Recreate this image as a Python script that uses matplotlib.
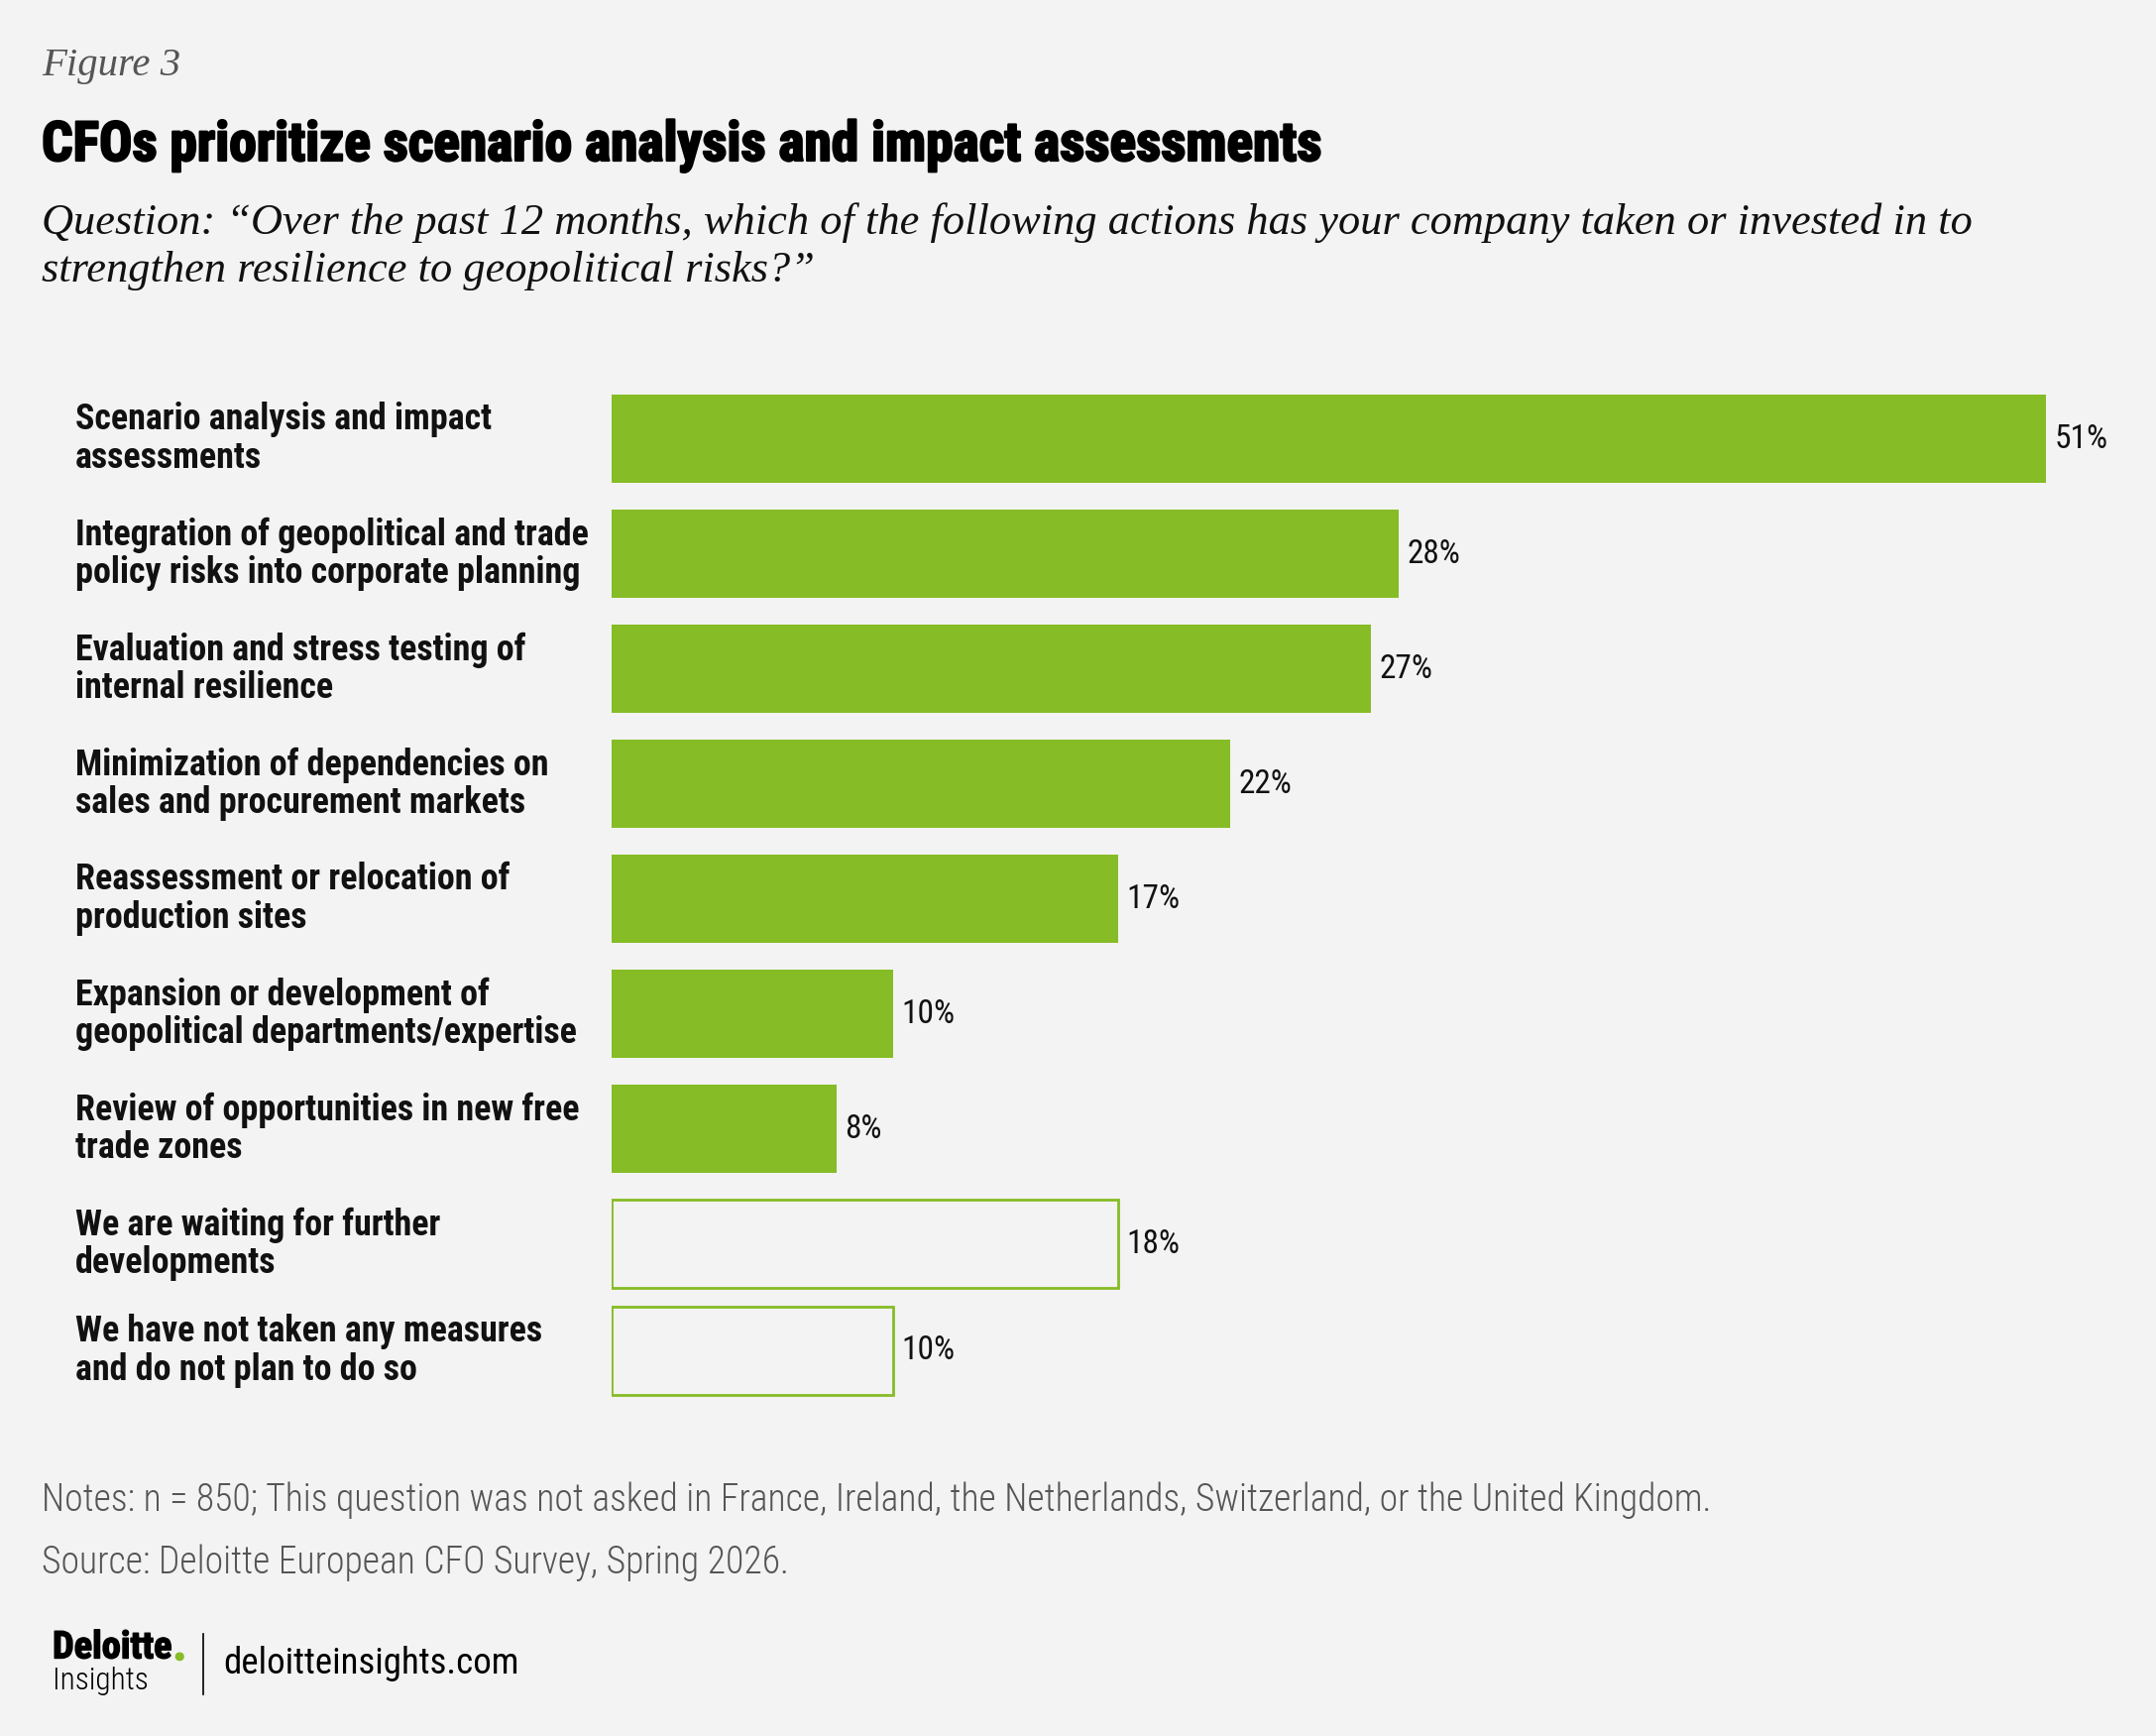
import matplotlib
matplotlib.use('Agg')
import numpy as np
import matplotlib.pyplot as plt
import matplotlib.patheffects as pe
from matplotlib import font_manager

W, H = 2175, 1751
DPI = 100

categories = [
    'Scenario analysis and impact\nassessments',
    'Integration of geopolitical and trade\npolicy risks into corporate planning',
    'Evaluation and stress testing of\ninternal resilience',
    'Minimization of dependencies on\nsales and procurement markets',
    'Reassessment or relocation of\nproduction sites',
    'Expansion or development of\ngeopolitical departments/expertise',
    'Review of opportunities in new free\ntrade zones',
    'We are waiting for further\ndevelopments',
    'We have not taken any measures\nand do not plan to do so',
]
# bar lengths as drawn in the source chart (the 17% bar is drawn as long as the 18% one)
values = [51, 28, 27, 22, 18, 10, 8, 18, 10]
value_labels = ['51%', '28%', '27%', '22%', '17%', '10%', '8%', '18%', '10%']
filled = [True, True, True, True, True, True, True, False, False]

title = 'CFOs prioritize scenario analysis and impact assessments'
question = ['Question: \u201cOver the past 12 months, which of the following actions has your company taken or invested in to',
            'strengthen resilience to geopolitical risks?\u201d']
notes = 'Notes: n = 850; This question was not asked in France, Ireland, the Netherlands, Switzerland, or the United Kingdom.'
source = 'Source: Deloitte European CFO Survey, Spring 2026.'

GREEN = '#86BC25'
BG = '#F3F3F3'

installed = {f.name for f in font_manager.fontManager.ttflist}


def pick(*names):
    for n in names:
        if n in installed:
            return n
    return 'DejaVu Sans'


NARROW = pick('Roboto Condensed', 'Liberation Sans Narrow', 'DejaVu Sans Condensed', 'Roboto')
SERIF = pick('Liberation Serif', 'DejaVu Serif')

fig = plt.figure(figsize=(W / DPI, H / DPI), dpi=DPI, facecolor=BG)


def fx(x):
    return x / W


def fy(y):
    return 1 - y / H


def fit(t, width):
    # scale font size so the text is the given pixel width
    r = fig.canvas.get_renderer()
    w = t.get_window_extent(r).width
    t.set_fontsize(t.get_fontsize() * width / w)


# bars
ax = fig.add_axes([fx(617), fy(1428.5), fx(2064) - fx(617), (1428.5 - 384.5) / H])
ax.set_facecolor(BG)
y = np.arange(len(values), dtype=float)
y[-1] -= 0.07
for yi, v, lab, f in zip(y, values, value_labels, filled):
    if f:
        ax.barh(yi, v, height=0.77, color=GREEN, edgecolor='none')
    else:
        ax.barh(yi, v, height=0.77, facecolor='none', edgecolor=GREEN, linewidth=2)
    ax.annotate(lab, (v, yi), xytext=(6, 0), textcoords='offset points',
                va='center', ha='left', fontsize=24, family=NARROW, color='#111111')
ax.set_xlim(0, 51)
ax.set_ylim(len(values) - 0.5, -0.5)
ax.axis('off')

lab_tr = matplotlib.transforms.blended_transform_factory(fig.transFigure, ax.transData)
labs = []
for yi, c in zip(y, categories):
    t = fig.text(fx(76), yi, c, transform=lab_tr, va='center', ha='left',
                 fontsize=22, fontweight='bold', family=NARROW, color='#111111',
                 linespacing=1.08)
    labs.append(t)
fig.canvas.draw()
r = fig.canvas.get_renderer()
scale = (428 - 55) * 1.387 / labs[1].get_window_extent(r).width
for t in labs:
    t.set_fontsize(t.get_fontsize() * scale)

# header
t = fig.text(fx(42), fy(76), 'Figure 3', family=SERIF, style='italic', fontsize=28,
             color='#555555', va='baseline')
fit(t, 140)
t = fig.text(fx(42), fy(162), title, family=NARROW, fontweight='heavy', fontsize=34,
             color='#000000', va='baseline',
             path_effects=[pe.withStroke(linewidth=1.6, foreground='#000000')])
fit(t, 1290)
q1 = fig.text(fx(42), fy(236), question[0], family=SERIF, style='italic', fontsize=28,
              color='#111111', va='baseline')
fit(q1, 1945)
fig.text(fx(42), fy(284), question[1], family=SERIF, style='italic',
         fontsize=q1.get_fontsize(), color='#111111', va='baseline')

# footer
n = fig.text(fx(42), fy(1513), notes, family=NARROW, fontweight='light', fontsize=22,
             color='#555555', va='center')
fit(n, 1678)
fig.text(fx(42), fy(1576), source, family=NARROW, fontweight='light', fontsize=n.get_fontsize(),
         color='#555555', va='center')

d = fig.text(fx(53), fy(1662), 'Deloitte', family=NARROW, fontweight='heavy', fontsize=20,
             color='#000000', va='center',
             path_effects=[pe.withStroke(linewidth=1.0, foreground='#000000')])
fit(d, 120)
fig.canvas.draw()
bb = d.get_window_extent(fig.canvas.get_renderer())
fig.text(bb.x1 / W + 0.0005, fy(1662), '.', family=NARROW, fontweight='heavy',
         fontsize=d.get_fontsize() * 1.15, color=GREEN, va='center',
         path_effects=[pe.withStroke(linewidth=1.5, foreground=GREEN)])
ins = fig.text(fx(53), fy(1695), 'Insights', family=NARROW, fontweight='light', fontsize=20,
               color='#000000', va='center')
fit(ins, 97)
fig.add_artist(plt.Line2D([fx(205), fx(205)], [fy(1648), fy(1709)], color='#000000', linewidth=1.2))
s = fig.text(fx(225), fy(1678), 'deloitteinsights.com', family=NARROW, fontsize=22,
             color='#000000', va='center')
fit(s, 298)

fig.savefig('out.png', dpi=DPI, facecolor=BG)
